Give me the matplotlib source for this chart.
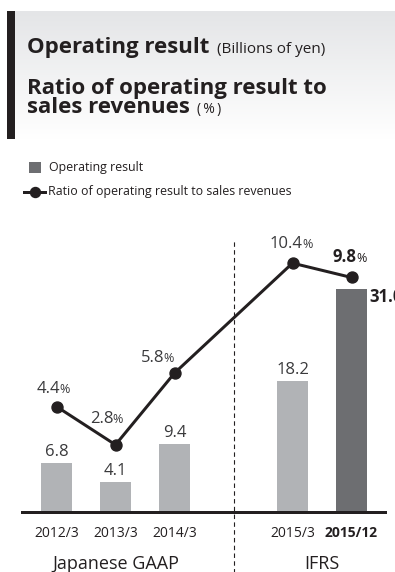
import numpy as np
import matplotlib
matplotlib.use("Agg")
import matplotlib.pyplot as plt
from matplotlib.patches import Rectangle
from matplotlib.lines import Line2D
from matplotlib.colors import LinearSegmentedColormap
from matplotlib.transforms import blended_transform_factory

plt.rcParams['font.family'] = ['Open Sans', 'DejaVu Sans']

# data
periods = ['2012/3', '2013/3', '2014/3', '2015/3', '2015/12']
positions = [0, 1, 2, 4, 5]
operating_result = [6.8, 4.1, 9.4, 18.2, 31.0]
ratio_pct = [4.4, 2.8, 5.8, 10.4, 9.8]
standards = ['Japanese GAAP', 'IFRS']
standard_pos = [1, 4.5]

# label placement (pixels: number centre dx, baseline dy above marker)
ratio_label_offsets = [(-8, 13.5), (-14, 22), (-22, 11.5), (-6, 15), (-7, 15)]

DARK = '#231f20'
TEXT = '#3a3a3c'
LIGHT_BAR = '#b1b3b6'
DARK_BAR = '#6d6e71'

W, H = 395, 572
fig = plt.figure(figsize=(W / 100, H / 100), dpi=100)


def px(v):
    # pixels -> points
    return v * 0.72


# header band with gradient and black side bar
hax = fig.add_axes([7 / W, 1 - 139 / H, (W - 7) / W, 128 / H])
grad = np.linspace(0, 1, 200).reshape(-1, 1)
cmap = LinearSegmentedColormap.from_list('hdr', ['#e4e5e7', '#ffffff'])
hax.imshow(grad, aspect='auto', cmap=cmap, extent=[0, 1, 0, 1], origin='upper')
hax.set_axis_off()
fig.add_artist(Rectangle((7 / W, 1 - 139 / H), 8 / W, 128 / H,
                         transform=fig.transFigure, color=DARK, lw=0))

fig.text(27 / W, 1 - 52.7 / H, 'Operating result', fontsize=16,
         fontweight='bold', color=DARK, va='baseline')
fig.text(217 / W, 1 - 52.7 / H, '(Billions of yen)', fontsize=11,
         color=DARK, va='baseline')
fig.text(27 / W, 1 - 94 / H, 'Ratio of operating result to', fontsize=16,
         fontweight='bold', color=DARK, va='baseline')
fig.text(27 / W, 1 - 113.3 / H, 'sales revenues', fontsize=16,
         fontweight='bold', color=DARK, va='baseline')
fig.text(197 / W, 1 - 113.3 / H, '(\u2009%\u2009)', fontsize=10, color=DARK,
         va='baseline')

# legend
fig.add_artist(Rectangle((29 / W, 1 - 173 / H), 12 / W, 11 / H,
                         transform=fig.transFigure, color=DARK_BAR, lw=0))
fig.text(49 / W, 1 - 168 / H, 'Operating result', fontsize=8.9,
         color=DARK, va='center')
fig.add_artist(Line2D([24 / W, 45 / W], [1 - 191.7 / H] * 2,
                      transform=fig.transFigure, color=DARK, lw=px(3)))
fig.add_artist(Line2D([35 / W], [1 - 191.7 / H], transform=fig.transFigure,
                      marker='o', markersize=px(10), color=DARK, lw=0))
fig.text(48 / W, 1 - 192 / H, 'Ratio of operating result to sales revenues',
         fontsize=8.9, color=DARK, va='center')

# main chart
base_y = 511.7
top_y = 230
ax = fig.add_axes([22 / W, (H - base_y) / H, (385 - 22) / W, (base_y - top_y) / H])
ax.set_xlim((22 - 56.5) / 59, (385 - 56.5) / 59)
ax.set_ylim(0, (base_y - top_y) / 7.2)

colors = [LIGHT_BAR] * 4 + [DARK_BAR]
bars = ax.bar(positions, operating_result, width=31 / 59, color=colors, zorder=1)

for i, (x, v) in enumerate(zip(positions, operating_result)):
    if i < 4:
        ax.annotate(f'{v:.1f}', xy=(x, v), xytext=(0, px(7)),
                    textcoords='offset points', ha='center', va='baseline',
                    fontsize=12, color=TEXT)
    else:
        ax.annotate(f'{v:.1f}', xy=(x + 31 / 59 / 2, v), xytext=(px(2.5), 0),
                    textcoords='offset points', ha='left', va='top',
                    fontsize=12, fontweight='bold', color=DARK,
                    annotation_clip=False)

for s in ['top', 'left', 'right']:
    ax.spines[s].set_visible(False)
ax.spines['bottom'].set_linewidth(px(3))
ax.spines['bottom'].set_color(DARK)
ax.set_yticks([])
ax.set_xticks(positions, periods)
ax.tick_params(axis='x', length=0, pad=10, labelsize=10, labelcolor=DARK)
ax.get_xticklabels()[-1].set_fontweight('bold')

# divider between accounting standards
ax.axvline(3, ymin=-0.22, ymax=(base_y - 239) / (base_y - top_y), clip_on=False,
           color=DARK, lw=0.8, dashes=(4, 3), zorder=0)

trans = blended_transform_factory(ax.transData, ax.transAxes)
for name, x in zip(standards, standard_pos):
    ax.text(x, -(569 - base_y) / (base_y - top_y), name, transform=trans,
            ha='center', va='baseline', fontsize=13, color=DARK)

# ratio line on its own scale
ax2 = ax.twinx()
ax2.set_ylim(0, (base_y - top_y) / 23.9)
ax2.set_axis_off()
ax2.plot(positions, ratio_pct, color=DARK, lw=px(3), marker='o',
         markersize=px(11), solid_capstyle='round')

for i, (x, v) in enumerate(zip(positions, ratio_pct)):
    dx, dy = ratio_label_offsets[i]
    bold = i == len(ratio_pct) - 1
    num = ax2.annotate(f'{v:.1f}', xy=(x, v), xytext=(px(dx), px(dy)),
                       textcoords='offset points', ha='center', va='baseline',
                       fontsize=12, color=DARK if bold else TEXT,
                       fontweight='bold' if bold else 'normal')
    ax2.annotate('%', xy=(1, 0), xycoords=num, xytext=(px(-0.5), px(4)),
                 textcoords='offset points', ha='left', va='baseline',
                 fontsize=9, color=DARK if bold else TEXT,
                 annotation_clip=False)

fig.savefig('out.png', dpi=100)
